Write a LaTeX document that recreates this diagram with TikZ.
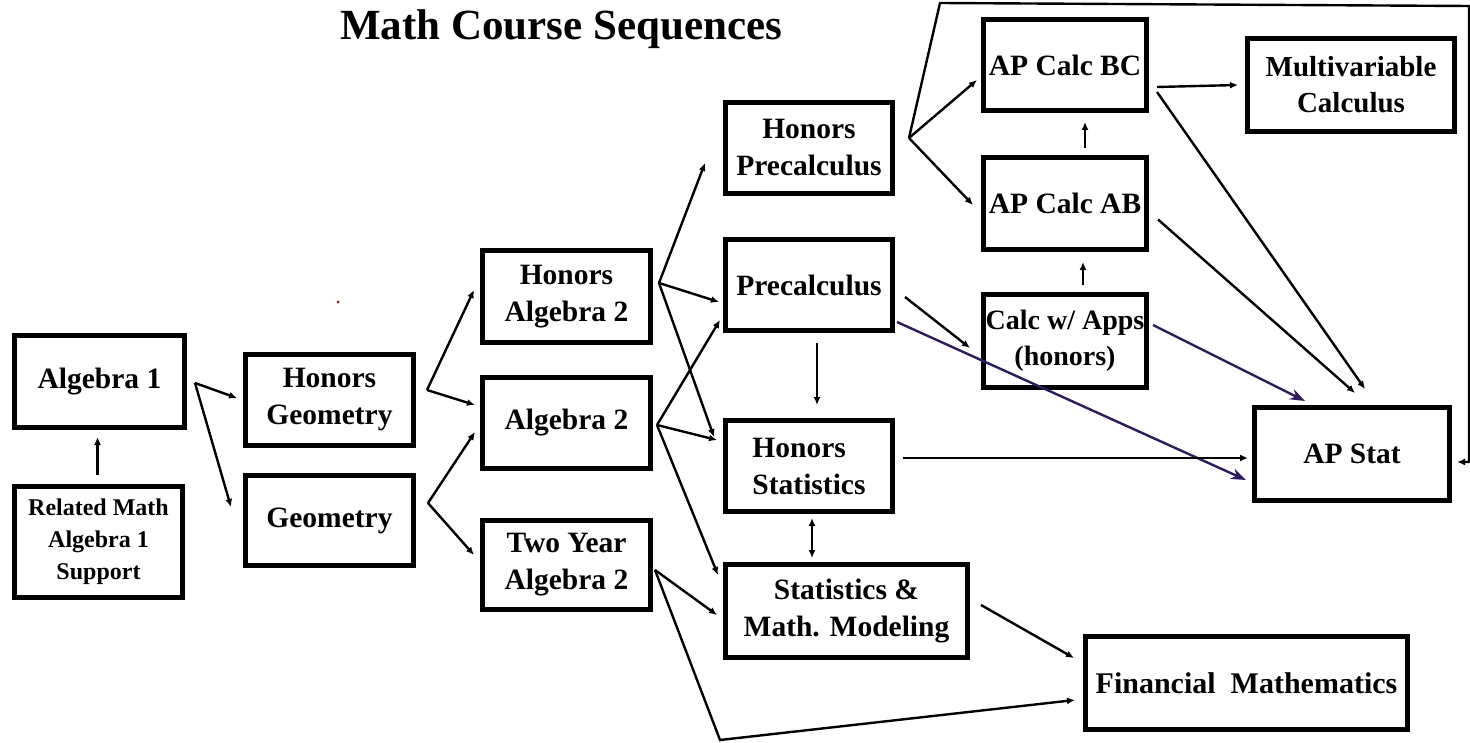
\documentclass[tikz,border=0pt]{standalone}
\usepackage{fontspec}
\setmainfont{Liberation Serif}
\usetikzlibrary{arrows.meta,calc}
\definecolor{pur}{HTML}{2D1B5E}
\begin{document}
\begin{tikzpicture}[x=1pt,y=-1pt,
  box/.style={draw, line width=5pt, align=center, inner sep=0pt,
    font=\fontsize{29.5}{37}\selectfont\bfseries},
  conn/.style={line width=2.4pt, -{Latex[length=8pt,width=7pt]}},
  conntwo/.style={line width=2.4pt, {Latex[length=8pt,width=7pt]}-{Latex[length=8pt,width=7pt]}},
  pconn/.style={line width=2.4pt, draw=pur, -{Stealth[length=15pt,width=11pt]}, pur}]
\fill[white] (0,0) rectangle (1470,743);
\useasboundingbox (0,0) rectangle (1470,743);

\node[font=\fontsize{43}{50}\selectfont\bfseries] (title) at (561,29) {Math Course Sequences};

\node[box, minimum width=170pt, minimum height=92pt] (alg1) at (99.5,381.5) {Algebra 1};
\node[box, minimum width=168pt, minimum height=111pt, font=\fontsize{24}{32}\selectfont\bfseries] (rel) at (98.5,542) {Related Math\\Algebra 1\\Support};
\node[box, minimum width=168pt, minimum height=91pt] (hgeo) at (329.5,400) {Honors\\Geometry};
\node[box, minimum width=168pt, minimum height=90pt] (geo) at (329.5,520.5) {Geometry};
\node[box, minimum width=168pt, minimum height=92pt] (halg2) at (566.5,296.5) {Honors\\Algebra 2};
\node[box, minimum width=168pt, minimum height=91pt] (alg2) at (566.5,423) {Algebra 2};
\node[box, minimum width=168pt, minimum height=89pt] (twoyr) at (566.5,565) {Two Year\\Algebra 2};
\node[box, minimum width=167pt, minimum height=91pt] (hprec) at (809,148) {Honors\\Precalculus};
\node[box, minimum width=167pt, minimum height=91pt] (prec) at (809,285) {Precalculus};
\node[box, minimum width=167pt, minimum height=91pt, align=left] (hstat) at (809,466) {Honors\\Statistics};
\node[box, minimum width=242pt, minimum height=93pt] (smm) at (846.5,611) {Statistics \&\\Math. Modeling};
\node[box, minimum width=163pt, minimum height=91pt] (bc) at (1065,65) {AP Calc BC};
\node[box, minimum width=207pt, minimum height=93pt, font=\fontsize{29}{36}\selectfont\bfseries] (multi) at (1351,85) {Multivariable\\Calculus};
\node[box, minimum width=163pt, minimum height=92pt] (ab) at (1065,203.5) {AP Calc AB};
\node[box, minimum width=163pt, minimum height=93pt, font=\fontsize{28}{36}\selectfont\bfseries] (cwa) at (1065,341) {Calc w/ Apps\\(honors)};
\node[box, minimum width=195pt, minimum height=93pt] (apstat) at (1352,454) {AP Stat};
\node[box, minimum width=322pt, minimum height=93pt, font=\fontsize{30}{36}\selectfont\bfseries] (fin) at (1246.5,683) {Financial\ \ Mathematics};

% stray dot
\fill[red!60!black] (338,302) circle (1.5);

% connectors
\coordinate (F1) at ($(alg1.east)+(8,1.5)$);
\draw[conn] (F1) -- ($(hgeo.west)+(-6,-2)$);
\draw[conn] (F1) -- ($(geo.west)+(-12,-13.5)$);
\draw[conn] ($(rel.north)+(-1,-9)$) -- ($(alg1.south)+(-2,7)$);

\coordinate (F2) at ($(hgeo.east)+(11,-10)$);
\draw[conn] (F2) -- ($(halg2.west)+(-6,-6.5)$);
\draw[conn] (F2) -- ($(alg2.west)+(-5,-18)$);
\coordinate (F3) at ($(geo.east)+(12,-17.5)$);
\draw[conn] (F3) -- ($(alg2.west)+(-5,9)$);
\draw[conn] (F3) -- ($(twoyr.west)+(-6,-10)$);

\coordinate (F4) at ($(halg2.east)+(6,-13.5)$);
\draw[conn] (F4) -- ($(hprec.west)+(-18,15)$);
\draw[conn] (F4) -- ($(prec.west)+(-4,17)$);
\draw[conn] (F4) -- ($(hstat.west)+(-9,-29)$);
\coordinate (F5) at ($(alg2.east)+(4,2)$);
\draw[conn] (F5) -- ($(prec.west)+(-3,35)$);
\draw[conn] (F5) -- ($(hstat.west)+(-6,-26)$);
\draw[conn] (F5) -- ($(smm.west)+(-5,-36)$);
\coordinate (F6) at ($(twoyr.east)+(2,5)$);
\draw[conn] (F6) -- ($(smm.west)+(-6,4)$);
\coordinate (B1) at (720,740);
\draw[conn] (F6) -- (B1) -- ($(fin.west)+(-8,17)$);
\draw[conn] ($(smm.east)+(11,-6)$) -- ($(fin.west)+(-9,-25)$);

\draw[conn] ($(prec.south)+(8,10)$) -- ($(hstat.north)+(8,-13)$);
\draw[conntwo] ($(hstat.south)+(3,4)$) -- ($(smm.north)+(-34.5,-4)$);
\draw[conn] ($(prec.east)+(10,12)$) -- ($(cwa.west)+(-11,7)$);
\draw[pconn] ($(prec.east)+(2,37)$) -- ($(apstat.west)+(-6,26)$);
\draw[conn] ($(hstat.east)+(8,-8)$) -- ($(apstat.west)+(-4,4)$);
\draw[pconn] ($(cwa.east)+(4,-16)$) -- ($(apstat.north)+(-47,-4)$);
\draw[conn] ($(ab.east)+(9,16)$) -- ($(apstat.north)+(3,-12)$);
\draw[conn] ($(bc.east)+(8,27)$) -- ($(apstat.north)+(13,-16)$);
\draw[conn] ($(bc.east)+(8,22)$) -- ($(multi.west)+(-7,0)$);
\draw[conn] ($(ab.north)+(20,-7)$) -- ($(bc.south)+(20,9)$);
\draw[conn] ($(cwa.north)+(18,-7)$) -- ($(ab.south)+(18,10)$);

\coordinate (F7) at ($(hprec.east)+(14,-10)$);
\draw[conn] (F7) -- ($(bc.west)+(-4,15)$);
\draw[conn] (F7) -- ($(ab.west)+(-8,1.5)$);
\coordinate (T1) at (940,3);
\coordinate (T2) at (1469,6);
\coordinate (T3) at ($(apstat.east)+(17,8)$);
\draw[conn] (F7) -- (T1) -- (T2) -- (T3) -- ($(apstat.east)+(5,8)$);
\end{tikzpicture}
\end{document}
